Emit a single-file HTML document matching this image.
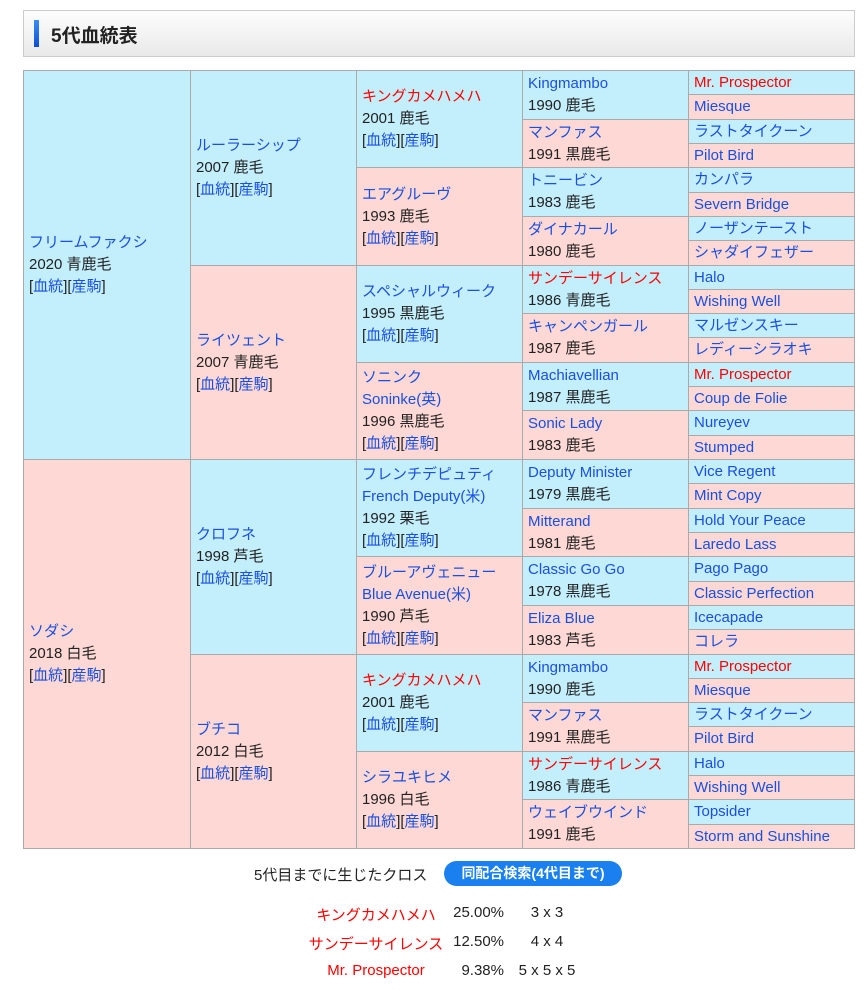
<!DOCTYPE html>
<html><head><meta charset="utf-8">
<style>
body{margin:0;width:864px;height:997px;background:#fff;font-family:"Liberation Sans","Noto Sans CJK JP",sans-serif;position:relative;overflow:hidden}
#hdr{position:absolute;left:23px;top:10px;width:830px;height:45px;border:1px solid #ccc;background:linear-gradient(#fdfdfd,#e9e9e9)}
#hdr .bar{position:absolute;left:10px;top:9px;width:5px;height:27px;background:linear-gradient(#3a8cf5,#0b4fd6)}
#hdr .t{position:absolute;left:27px;top:10px;font-size:19px;font-weight:bold;color:#222}
#ped{position:absolute;left:23px;top:70px;width:832px;height:778px;background:#aaa}
.c{position:absolute;box-sizing:border-box;border:1px solid #aaa;font-size:15px;line-height:22px;display:flex;flex-direction:column;justify-content:center;padding-left:5px;color:#222;overflow:hidden;white-space:nowrap}
.m{background:#c3eefb}.f{background:#fdd8d4}
.n{color:#1a4fe0}.r{color:#f00}
.lk{color:#1a4fe0}
</style></head><body>
<div id="hdr"><div class="bar"></div><div class="t">5代血統表</div></div>
<div id="ped"></div>
<div style="position:absolute;left:254px;top:864px;font-size:15px;color:#222">5代目までに生じたクロス</div>
<div style="position:absolute;left:444px;top:861px;width:178px;height:25px;border-radius:13px;background:#1a7fef;color:#fff;font-weight:bold;font-size:14px;line-height:25px;text-align:center">同配合検索(4代目まで)</div>
<div id="crosses"></div>
<script>
const gen1=[["フリームファクシ","2020 青鹿毛",0],["ソダシ","2018 白毛",0]];
const gen2=[["ルーラーシップ","2007 鹿毛",0],["ライツェント","2007 青鹿毛",0],["クロフネ","1998 芦毛",0],["ブチコ","2012 白毛",0]];
const gen3=[["キングカメハメハ","2001 鹿毛",1],["エアグルーヴ","1993 鹿毛",0],["スペシャルウィーク","1995 黒鹿毛",0],["ソニンク<br>Soninke(英)","1996 黒鹿毛",0],["フレンチデピュティ<br>French Deputy(米)","1992 栗毛",0],["ブルーアヴェニュー<br>Blue Avenue(米)","1990 芦毛",0],["キングカメハメハ","2001 鹿毛",1],["シラユキヒメ","1996 白毛",0]];
const gen4=[["Kingmambo","1990 鹿毛",0],["マンファス","1991 黒鹿毛",0],["トニービン","1983 鹿毛",0],["ダイナカール","1980 鹿毛",0],["サンデーサイレンス","1986 青鹿毛",1],["キャンペンガール","1987 鹿毛",0],["Machiavellian","1987 黒鹿毛",0],["Sonic Lady","1983 鹿毛",0],["Deputy Minister","1979 黒鹿毛",0],["Mitterand","1981 鹿毛",0],["Classic Go Go","1978 黒鹿毛",0],["Eliza Blue","1983 芦毛",0],["Kingmambo","1990 鹿毛",0],["マンファス","1991 黒鹿毛",0],["サンデーサイレンス","1986 青鹿毛",1],["ウェイブウインド","1991 鹿毛",0]];
const gen5=[["Mr. Prospector",1],["Miesque",0],["ラストタイクーン",0],["Pilot Bird",0],["カンパラ",0],["Severn Bridge",0],["ノーザンテースト",0],["シャダイフェザー",0],["Halo",0],["Wishing Well",0],["マルゼンスキー",0],["レディーシラオキ",0],["Mr. Prospector",1],["Coup de Folie",0],["Nureyev",0],["Stumped",0],["Vice Regent",0],["Mint Copy",0],["Hold Your Peace",0],["Laredo Lass",0],["Pago Pago",0],["Classic Perfection",0],["Icecapade",0],["コレラ",0],["Mr. Prospector",1],["Miesque",0],["ラストタイクーン",0],["Pilot Bird",0],["Halo",0],["Wishing Well",0],["Topsider",0],["Storm and Sunshine",0]];
const crossNames=["キングカメハメハ","サンデーサイレンス","Mr. Prospector"];
const crossPct=["25.00%","12.50%","9.38%"];
const crossGen=["3 x 3","4 x 4","5 x 5 x 5"];

const ped=document.getElementById('ped');
const colX=[0,167,333,499,665,832];
const H=778;
const gens=[gen1,gen2,gen3,gen4];
gens.forEach((g,gi)=>{
  const h=H/g.length;
  g.forEach((d,i)=>{
    const el=document.createElement('div');
    
    
    el.className='c '+(i%2?'f':'m');
    el.style.left=colX[gi]+'px';el.style.width=(colX[gi+1]-colX[gi]+1)+'px';
    el.style.top=Math.round(i*h)+'px';el.style.height=(Math.round((i+1)*h)-Math.round(i*h)+1)+'px';
    let html='<div class="'+(d[2]?'r':'n')+'">'+d[0]+'</div><div>'+d[1]+'</div>';
    if(gi<3) html+='<div>[<span class="lk">血統</span>][<span class="lk">産駒</span>]</div>';
    el.innerHTML=html;
    ped.appendChild(el);
  });
});
const h5=H/gen5.length;
gen5.forEach((d,i)=>{
  const el=document.createElement('div');
  
  
  el.className='c '+(i%2?'f':'m');
  el.style.left=colX[4]+'px';el.style.width=(colX[5]-colX[4])+'px';
  el.style.top=Math.round(i*h5)+'px';el.style.height=(Math.round((i+1)*h5)-Math.round(i*h5)+1)+'px';
  el.innerHTML='<div class="'+(d[1]?'r':'n')+'">'+d[0]+'</div>';
  ped.appendChild(el);
});
const cr=document.getElementById('crosses');
crossNames.forEach((n,i)=>{
  const y=904+i*29;
  const a=document.createElement('div');
  
  
  a.style.cssText='position:absolute;left:296px;width:160px;text-align:center;top:'+y+'px;font-size:15px;color:#f00';
  a.textContent=n;cr.appendChild(a);
  const b=document.createElement('div');
  
  
  b.style.cssText='position:absolute;left:436px;width:68px;text-align:right;top:'+y+'px;font-size:15px;color:#222';
  b.textContent=crossPct[i];cr.appendChild(b);
  const c=document.createElement('div');
  
  
  c.style.cssText='position:absolute;left:503px;width:88px;text-align:center;top:'+y+'px;font-size:15px;color:#222';
  c.textContent=crossGen[i];cr.appendChild(c);
});
</script>
</body></html>
